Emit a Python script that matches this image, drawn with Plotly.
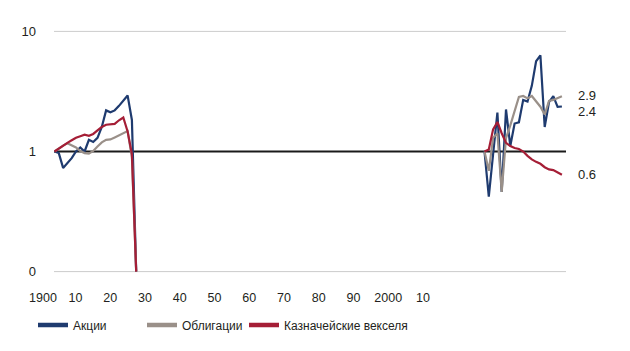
import math
import plotly.graph_objects as go

# ---- data ----
YEARS_EARLY = list(range(1900, 1920))
YEARS_LATE = list(range(2000, 2019))

STOCKS_EARLY = [1.00, 0.97, 0.73, 0.80, 0.88, 1.00, 1.08, 1.00, 1.25, 1.20,
                1.30, 1.60, 2.20, 2.12, 2.20, 2.40, 2.65, 2.93, 1.83, 0.10]
BONDS_EARLY = [1.00, 1.06, 1.12, 1.17, 1.13, 1.08, 1.01, 0.97, 0.96, 1.01,
               1.10, 1.19, 1.25, 1.26, 1.31, 1.36, 1.42, 1.48, 0.90, 0.10]
BILLS_EARLY = [1.00, 1.06, 1.12, 1.18, 1.24, 1.30, 1.34, 1.38, 1.35, 1.40,
               1.50, 1.60, 1.67, 1.68, 1.70, 1.82, 1.92, 1.47, 0.95, 0.10]

STOCKS_LATE = [1.00, 0.42, 0.95, 2.11, 0.46, 2.24, 1.11, 1.71, 1.75, 2.69,
               2.61, 3.52, 5.64, 6.31, 1.60, 2.58, 2.89, 2.35, 2.37]
BONDS_LATE = [1.00, 0.69, 1.30, 1.42, 0.46, 1.29, 1.65, 2.19, 2.85, 2.90,
              2.77, 2.90, 2.64, 2.36, 2.03, 2.64, 2.69, 2.80, 2.89]
BILLS_LATE = [1.00, 1.04, 1.53, 1.76, 1.42, 1.18, 1.11, 1.07, 1.05, 1.00,
              0.92, 0.86, 0.82, 0.79, 0.74, 0.71, 0.70, 0.67, 0.64]

SERIES_NAMES = ["Акции", "Облигации", "Казначейские векселя"]
X_TICK_TEXT = ["1900", "10", "20", "30", "40", "50", "60", "70", "80", "90", "2000", "10"]
Y_TICK_VALS = [0.1, 1, 10]
Y_TICK_TEXT = ["0", "1", "10"]

# ---- style ----
COLORS = ["#1f3b6f", "#9a9089", "#a51e36"]
FONT = "Liberation Sans Narrow, Liberation Sans, Arial, sans-serif"
TEXT_COLOR = "#231f20"

W, H = 630, 351
ML, MR, MT, MB = 40, 64, 29, 72
PX_PER_YEAR = 4.3
PX_1900 = 54.5
plot_w = W - ML - MR


def px_to_year(px):
    return 1900 + (px - PX_1900) / PX_PER_YEAR


x_range = [px_to_year(ML), px_to_year(W - MR)]
label_px = [43] + [75.5 + 34.75 * k for k in range(11)]
x_tick_vals = [px_to_year(p) for p in label_px]

fig = go.Figure()

series = [
    (STOCKS_EARLY, STOCKS_LATE),
    (BONDS_EARLY, BONDS_LATE),
    (BILLS_EARLY, BILLS_LATE),
]
legends = ["legend", "legend2", "legend3"]

for i, (early, late) in enumerate(series):
    fig.add_trace(go.Scatter(
        x=YEARS_EARLY + [None] + YEARS_LATE,
        y=early + [None] + late,
        mode="lines",
        line=dict(color=COLORS[i], width=2.2),
        connectgaps=False,
        showlegend=False,
        hoverinfo="skip",
    ))

for i, name in enumerate(SERIES_NAMES):
    fig.add_trace(go.Scatter(
        x=[None], y=[None], mode="lines",
        line=dict(color=COLORS[i], width=4.5),
        name=name, legend=legends[i], showlegend=True,
    ))

grid_x0 = (PX_1900 - 0.5 - ML) / plot_w
shapes = []
for v in Y_TICK_VALS:
    is_one = v == 1
    shapes.append(dict(
        type="line", xref="paper", yref="y",
        x0=grid_x0, x1=1, y0=v, y1=v,
        line=dict(color="#1a1a1a" if is_one else "#cccccc", width=2 if is_one else 1),
        layer="below",
    ))

annotations = []
end_vals = [STOCKS_LATE[-1], BONDS_LATE[-1], BILLS_LATE[-1]]
shifts = [-5, 1, 0]
for v, s in zip(end_vals, shifts):
    annotations.append(dict(
        text=f"{v:.1f}", xref="paper", x=1, xanchor="left", xshift=10,
        yref="y", y=math.log10(v), yanchor="middle", yshift=s,
        showarrow=False, font=dict(family=FONT, size=13, color=TEXT_COLOR),
    ))

legend_px = [33, 142, 244]
legend_y = (H - MB - 331) / (H - MT - MB)
leg_common = dict(orientation="h", xanchor="left", yanchor="middle", y=legend_y,
                  bgcolor="rgba(0,0,0,0)", font=dict(family=FONT, size=12, color=TEXT_COLOR))

fig.update_layout(
    width=W, height=H,
    margin=dict(l=ML, r=MR, t=MT, b=MB),
    paper_bgcolor="white", plot_bgcolor="white",
    font=dict(family=FONT, size=12, color=TEXT_COLOR),
    xaxis=dict(range=x_range, tickvals=x_tick_vals, ticktext=X_TICK_TEXT,
               showgrid=False, zeroline=False, showline=False, ticks="",
               ticklabelstandoff=14, tickfont=dict(size=12.5)),
    yaxis=dict(type="log", range=[-1.02, 1.02], tickvals=Y_TICK_VALS, ticktext=Y_TICK_TEXT,
               showgrid=False, zeroline=False, showline=False, ticks="",
               ticklabelstandoff=3, tickfont=dict(size=13)),
    shapes=shapes,
    annotations=annotations,
    legend=dict(x=(legend_px[0] - ML) / plot_w, **leg_common),
    legend2=dict(x=(legend_px[1] - ML) / plot_w, **leg_common),
    legend3=dict(x=(legend_px[2] - ML) / plot_w, **leg_common),
)

fig.write_html("out.html")
